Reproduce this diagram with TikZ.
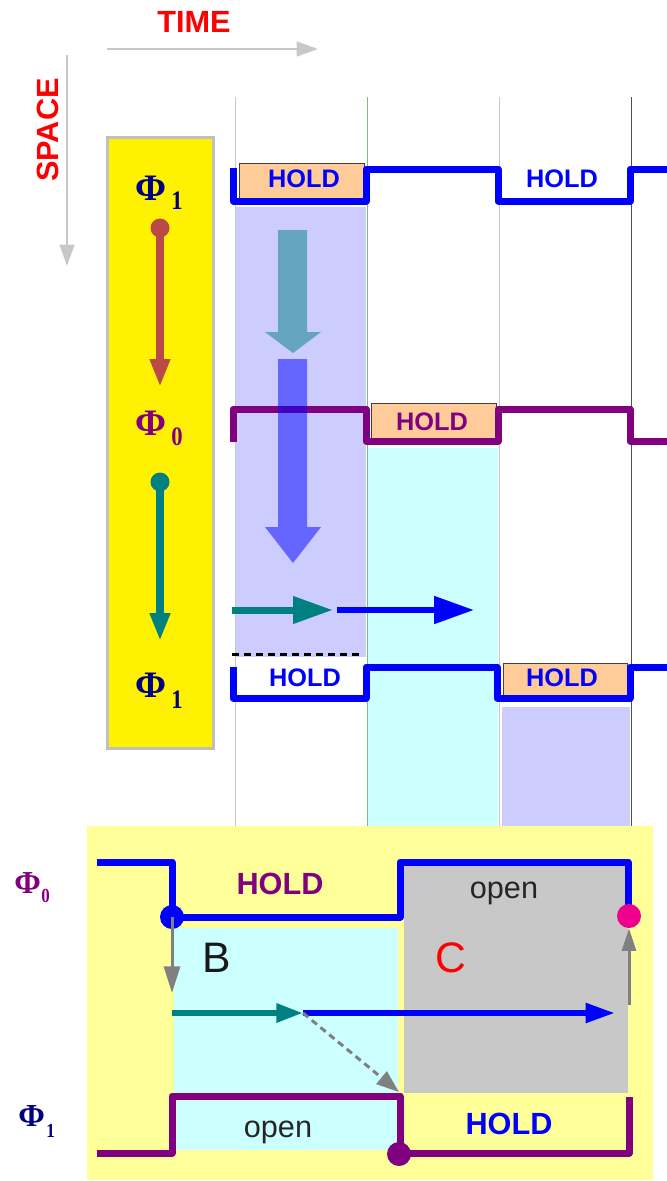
\documentclass[tikz,border=0pt]{standalone}
\usepackage{fontspec}
\setmainfont{Liberation Serif}
\setsansfont{Liberation Sans}
\usetikzlibrary{arrows.meta}
\definecolor{lav}{RGB}{204,204,255}
\definecolor{cyanl}{RGB}{204,255,255}
\definecolor{peach}{RGB}{255,204,153}
\definecolor{brownr}{RGB}{186,74,72}
\definecolor{pyellow}{RGB}{255,255,153}
\definecolor{boxgrey}{RGB}{192,192,192}
\definecolor{cgrey}{RGB}{200,200,200}
\definecolor{navyc}{RGB}{0,0,128}
\definecolor{purp}{RGB}{128,0,128}
\definecolor{tealc}{RGB}{0,128,128}
\definecolor{gridg}{RGB}{200,200,200}
\definecolor{gridgreen}{RGB}{120,190,120}
\definecolor{griddark}{RGB}{80,80,80}
\definecolor{axisgrey}{RGB}{200,200,200}
\tikzset{
  wave/.style={line width=5.25pt, line join=round},
  holdA/.style={font=\sffamily\bfseries\fontsize{19}{19}\selectfont, inner sep=0pt},
  bigt/.style={font=\sffamily\bfseries\fontsize{23}{23}\selectfont, inner sep=0pt},
  opent/.style={font=\sffamily\fontsize{23}{23}\selectfont, text=black!85, inner sep=0pt},
  lettert/.style={font=\sffamily\fontsize{32}{32}\selectfont, inner sep=0pt},
  phit/.style={font=\bfseries\fontsize{28}{28}\selectfont, inner sep=0pt, anchor=base west},
  phisub/.style={font=\bfseries\fontsize{20}{20}\selectfont, inner sep=0pt, anchor=base west},
  phism/.style={font=\bfseries\fontsize{24}{24}\selectfont, inner sep=0pt, anchor=base west},
  phismsub/.style={font=\bfseries\fontsize{15}{15}\selectfont, inner sep=0pt, anchor=base west},
  holdbox/.style={fill=peach, draw=black!75, line width=0.6pt},
  smalldot/.style={circle, inner sep=0pt, minimum size=14.25pt},
  bigdot/.style={circle, inner sep=0pt, minimum size=18pt},
  gridline/.style={line width=0.75pt},
  axisarrow/.style={draw=axisgrey, line width=1.6pt, -{Triangle[length=16pt,width=11pt]}},
}
\begin{document}
\begin{tikzpicture}[x=0.75pt,y=-0.75pt]
\useasboundingbox (0,0) rectangle (667,1181);

% ---- axes
\node[bigt, text=red] (time) at (194,22) {TIME};
\node[bigt, text=red, rotate=90] (space) at (48,130) {SPACE};
\coordinate (ta1) at (107,49);
\coordinate (ta2) at (318,49);
\draw[axisarrow] (ta1) -- (ta2);
\coordinate (sa1) at (67,55);
\coordinate (sa2) at (67,266);
\draw[axisarrow] (sa1) -- (sa2);

% ---- shaded regions
\fill[lav] (235,207) rectangle (366,657);
\fill[cyanl] (368,448) rectangle (498,826);
\fill[lav] (502,707) rectangle (630,826);

% ---- grid lines
\draw[gridline, gridg] (235,97) -- (235,826);
\draw[gridline, gridgreen] (367,97) -- (367,826);
\draw[gridline, gridg] (499,97) -- (499,826);
\draw[gridline, griddark] (631,97) -- (631,826);

% ---- yellow legend box
\filldraw[fill=yellow, draw=boxgrey, line width=2.25pt] (107,137) rectangle (213,748);

% ---- HOLD boxes
\draw[holdbox] (239,163) rectangle (364,200);
\draw[holdbox] (371,403) rectangle (496,441);
\draw[holdbox] (503,663) rectangle (627,698);

% ---- waveforms (upper)
\draw[wave, blue] (233,168) -- (233,201) -- (366,201) -- (366,169) -- (498,169) -- (498,201) -- (630,201) -- (630,169) -- (670,169);
\draw[wave, purp] (233,442) -- (233,409) -- (366,409) -- (366,441) -- (498,441) -- (498,409) -- (630,409) -- (630,441) -- (670,441);
\draw[wave, blue] (233,667) -- (233,698) -- (366,698) -- (366,667) -- (497,667) -- (497,698) -- (630,698) -- (630,667) -- (670,667);

% ---- big transparent arrows
\fill[tealc, opacity=0.5] (278,230) -- (307,230) -- (307,332) -- (321,332) -- (293,353) -- (265,332) -- (278,332) -- cycle;
\fill[blue, opacity=0.5] (278,359) -- (307,359) -- (307,527) -- (321,527) -- (293,563) -- (265,527) -- (278,527) -- cycle;

% ---- horizontal arrows (upper)
\coordinate (h1a) at (232,610);
\coordinate (h1b) at (333,610);
\coordinate (h2a) at (337,610);
\coordinate (h2b) at (474,610);
\draw[tealc, line width=5.25pt, -{Triangle[length=30pt,width=19.5pt]}] (h1a) -- (h1b);
\draw[blue, line width=4.5pt, -{Triangle[length=30pt,width=20pt]}] (h2a) -- (h2b);

% ---- dashed line
\draw[black, line width=2.25pt, dash pattern=on 5.25pt off 3.75pt] (232,654) -- (362,654);

% ---- HOLD labels (upper)
\node[holdA, text=blue] (hold1) at (304,179) {HOLD};
\node[holdA, text=blue] (hold2) at (562,179) {HOLD};
\node[holdA, text=purp] (hold3) at (432,422) {HOLD};
\node[holdA, text=blue] (hold4) at (305,678) {HOLD};
\node[holdA, text=blue] (hold5) at (562,678) {HOLD};

% ---- legend labels and arrows
\node[phit, text=navyc] (phiA) at (135,200) {Φ};
\node[phisub, text=navyc] (phiAs) at (171,209) {\scalebox{0.85}[1]{1}};
\node[phit, text=purp] (phiB) at (135,435) {Φ};
\node[phisub, text=purp] (phiBs) at (171,445) {\scalebox{0.85}[1]{0}};
\node[phit, text=navyc] (phiC) at (135,697) {Φ};
\node[phisub, text=navyc] (phiCs) at (171,708) {\scalebox{0.85}[1]{1}};

\node[smalldot, fill=brownr] (d1) at (160,228) {};
\coordinate (d1e) at (160,387);
\draw[brownr, line width=5.5pt, -{Triangle[length=21pt,width=14.25pt]}] (d1.center) -- (d1e);
\node[smalldot, fill=tealc] (d2) at (160,482) {};
\coordinate (d2e) at (160,641);
\draw[tealc, line width=5.5pt, -{Triangle[length=21pt,width=14.25pt]}] (d2.center) -- (d2e);

% ---- lower panel
\fill[pyellow] (87,826) rectangle (653,1180);
\fill[cyanl] (174,928) rectangle (398,1150);
\fill[cgrey] (404,865) rectangle (628,1093);

\draw[wave, blue] (97,862) -- (172,862) -- (172,917) -- (400,917) -- (400,862) -- (628,862) -- (628,916);
\draw[wave, purp] (97,1153) -- (172,1153) -- (172,1096) -- (400,1096) -- (400,1153) -- (629,1153) -- (629,1097);

\node[phism, text=purp] (pl0) at (14,893) {Φ};
\node[phismsub, text=purp] (pl0s) at (41,902) {\scalebox{0.85}[1]{0}};
\node[phism, text=navyc] (pl1) at (18,1126) {Φ};
\node[phismsub, text=navyc] (pl1s) at (46,1137) {\scalebox{0.85}[1]{1}};

\node[bigt, text=purp] (lhold1) at (280,884) {HOLD};
\node[opent] (lopen1) at (504,893) {open};
\node[lettert, text=black!90] (lB) at (217,958) {B};
\node[lettert, text=red] (lC) at (451,958) {C};
\node[opent] (lopen2) at (278,1132) {open};
\node[bigt, text=blue] (lhold2) at (509,1124) {HOLD};

\node[bigdot, fill=blue] (bd) at (172,917) {};
\node[bigdot, fill=magenta] (md) at (629,916) {};
\node[bigdot, fill=purp] (pd) at (399,1154) {};

\coordinate (bde) at (172,993);
\coordinate (mds) at (629,1005);
\coordinate (ja) at (303,1013);
\coordinate (tstart) at (172,1013);
\coordinate (bend) at (615,1013);
\coordinate (dend) at (399,1092);

\draw[gray, line width=2.25pt, -{Triangle[length=20pt,width=12pt]}] (bd.center) -- (bde);
\draw[gray, line width=2.25pt, -{Triangle[length=17pt,width=10.5pt]}] (mds) -- (md.south);
\draw[tealc, line width=4.5pt, -{Triangle[length=20pt,width=13.5pt]}] (tstart) -- (ja);
\draw[blue, line width=4.5pt, -{Triangle[length=22pt,width=14pt]}] (ja) -- (bend);
\draw[gray, line width=2.25pt, dash pattern=on 5pt off 3.5pt, -{Triangle[length=17pt,width=12pt]}] (ja) -- (dend);
\end{tikzpicture}
\end{document}
